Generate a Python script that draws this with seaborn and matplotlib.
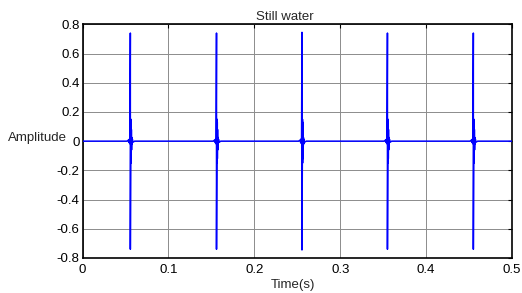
import matplotlib
matplotlib.use("Agg")
import matplotlib.pyplot as plt
import seaborn as sns
import pandas as pd

# spike train
spike_times = [0.0557, 0.1560, 0.2555, 0.3550, 0.4550]
spike_peaks = [0.74, 0.74, 0.745, 0.74, 0.74]

# shape of one pulse: time offsets (s) and amplitudes around the spike
# (None marks the negative swing of the spike)
pulse_offsets = [-0.0040, -0.0020, -0.0015, -0.0010, -0.0005, 0.0000, 0.0000,
                 0.0006, 0.0007, 0.0009, 0.0010, 0.0012, 0.0014, 0.0017,
                 0.0020, 0.0024, 0.0028, 0.0050]
pulse_values = [0.0, 0.008, -0.010, 0.015, -0.018, "peak", None,
                0.15, -0.15, 0.13, -0.12, 0.08, -0.06, 0.025,
                -0.02, 0.012, -0.008, 0.0]

t_start, t_end = 0.0, 0.5

x_ticks = [0, 0.1, 0.2, 0.3, 0.4, 0.5]
x_ticklabels = ["0", "0.1", "0.2", "0.3", "0.4", "0.5"]
y_ticks = [-0.8, -0.6, -0.4, -0.2, 0, 0.2, 0.4, 0.6, 0.8]
y_ticklabels = ["-0.8", "-0.6", "-0.4", "-0.2", "0", "0.2", "0.4", "0.6", "0.8"]

# assemble the trace
times = [t_start]
amps = [0.0]
for ts, pk in zip(spike_times, spike_peaks):
    for off, val in zip(pulse_offsets, pulse_values):
        times.append(ts + off)
        if val == "peak":
            amps.append(pk)
        elif val is None:
            amps.append(-pk)
        else:
            amps.append(val)
times.append(t_end)
amps.append(0.0)
df = pd.DataFrame({"Time(s)": times, "Amplitude": amps})

sns.set_style("white")
plt.rcParams["font.family"] = ["Liberation Sans", "DejaVu Sans"]
plt.rcParams["font.size"] = 9.5

fig = plt.figure(figsize=(5.22, 2.93), dpi=100)
ax = fig.add_axes([82.5 / 522, 1 - 258 / 293, 429.5 / 522, 233.7 / 293])

sns.lineplot(data=df, x="Time(s)", y="Amplitude", estimator=None, sort=False,
             color="#0000ff", lw=1.1, ax=ax, zorder=3)

ax.set_xlim(t_start, t_end)
ax.set_ylim(-0.8, 0.8)
ax.set_xticks(x_ticks)
ax.set_xticklabels(x_ticklabels)
ax.set_yticks(y_ticks)
ax.set_yticklabels(y_ticklabels)
ax.tick_params(direction="in", length=3, width=0.8, colors="black",
               top=True, right=True, labelsize=9.5)
ax.tick_params(axis="x", pad=4)
ax.tick_params(axis="y", pad=2)
ax.grid(True, color="#8c8c8c", lw=0.7)
for sp in ax.spines.values():
    sp.set_color("black")
    sp.set_linewidth(1.2)
    sp.set_visible(True)

ax.set_title("Still water", fontsize=9.5, x=0.4706, pad=3)
ax.set_xlabel("Time(s)", fontsize=9.5, va="center")
ax.xaxis.set_label_coords(0.491, -0.1155)
ax.set_ylabel("Amplitude", fontsize=9.5, rotation=0, ha="right", va="center")
ax.yaxis.set_label_coords(-0.0368, 0.513)

fig.savefig("out.png", dpi=100)
